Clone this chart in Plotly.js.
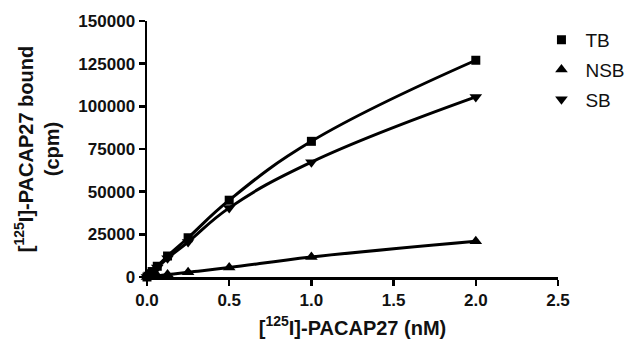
<!DOCTYPE html>
<html>
<head>
<meta charset="utf-8">
<script src="https://cdn.plot.ly/plotly-3.0.1.min.js"></script>
<style>html,body{margin:0;padding:0;background:#fff;}#chart{width:640px;height:359px;}</style>
</head>
<body>
<div id="chart"></div>
<script>
// Concentration of [125I]-PACAP27 (nM)
var concentration = [0, 0.015625, 0.03125, 0.0625, 0.125, 0.25, 0.5, 1.0, 2.0];
// Bound counts (cpm)
var tbValues  = [0, 1600, 3200, 6300, 12300, 23000, 45000, 79500, 127000];
var nsbValues = [0, 170, 340, 680, 1400, 2800, 5500, 11700, 21000];
var sbValues  = [0, 1450, 2900, 5600, 11000, 20500, 40500, 67300, 105500];
var seriesNames = ['TB', 'NSB', 'SB'];
var xTicks = [0, 0.5, 1.0, 1.5, 2.0, 2.5];
var xTickLabels = ['0.0', '0.5', '1.0', '1.5', '2.0', '2.5'];
var yTicks = [0, 25000, 50000, 75000, 100000, 125000, 150000];
var yTickLabels = ['0', '25000', '50000', '75000', '100000', '125000', '150000'];

var font = 'Liberation Sans, Arial, sans-serif';
var symbols = ['square', 'triangle-up', 'triangle-down'];
var sizes = [9, 11, 11];
var series = [tbValues, nsbValues, sbValues];
var data = [];
series.forEach(function (y, i) {
  data.push({
    x: concentration, y: y, name: seriesNames[i], showlegend: false,
    type: 'scatter', mode: 'lines+markers',
    line: {color: '#000', width: 3, shape: 'spline', smoothing: 1.2},
    marker: {color: '#000', symbol: symbols[i], size: sizes[i]},
    cliponaxis: false
  });
});
// legend entries: markers only
series.forEach(function (y, i) {
  data.push({
    x: [null], y: [null], name: seriesNames[i], legendgroup: seriesNames[i],
    type: 'scatter', mode: 'markers',
    marker: {color: '#000', symbol: symbols[i], size: sizes[i]}
  });
});
var axisCommon = {
  showgrid: false, zeroline: false, showline: true,
  linecolor: '#000', linewidth: 2.5,
  ticks: 'outside', ticklen: 6, tickwidth: 2.5, tickcolor: '#000',
  tickfont: {family: font, size: 17, color: '#111', weight: 'bold'},
  tickmode: 'array', automargin: false
};
var layout = {
  width: 640, height: 359,
  margin: {l: 147, r: 82, t: 21, b: 82, autoexpand: false},
  paper_bgcolor: '#fff', plot_bgcolor: '#fff',
  showlegend: true,
  legend: {
    x: 0.95, y: 1.0, xanchor: 'left', yanchor: 'top',
    font: {family: font, size: 19, color: '#111'},
    tracegroupgap: 2, bgcolor: 'rgba(0,0,0,0)', itemwidth: 38
  },
  xaxis: Object.assign({}, axisCommon, {
    range: [0, 2.5], tickvals: xTicks, ticktext: xTickLabels,
    title: {text: '[<sup>125</sup>I]-PACAP27 (nM)', font: {family: font, size: 20, color: '#111', weight: 'bold'}, standoff: 12}
  }),
  yaxis: Object.assign({}, axisCommon, {
    range: [0, 150000], tickvals: yTicks, ticktext: yTickLabels,
    title: {text: '[<sup>125</sup>I]-PACAP27 bound<br>(cpm)', font: {family: font, size: 20, color: '#111', weight: 'bold'}, standoff: 14}
  })
};
Plotly.newPlot('chart', data, layout, {displayModeBar: false, staticPlot: true});
</script>
</body>
</html>
